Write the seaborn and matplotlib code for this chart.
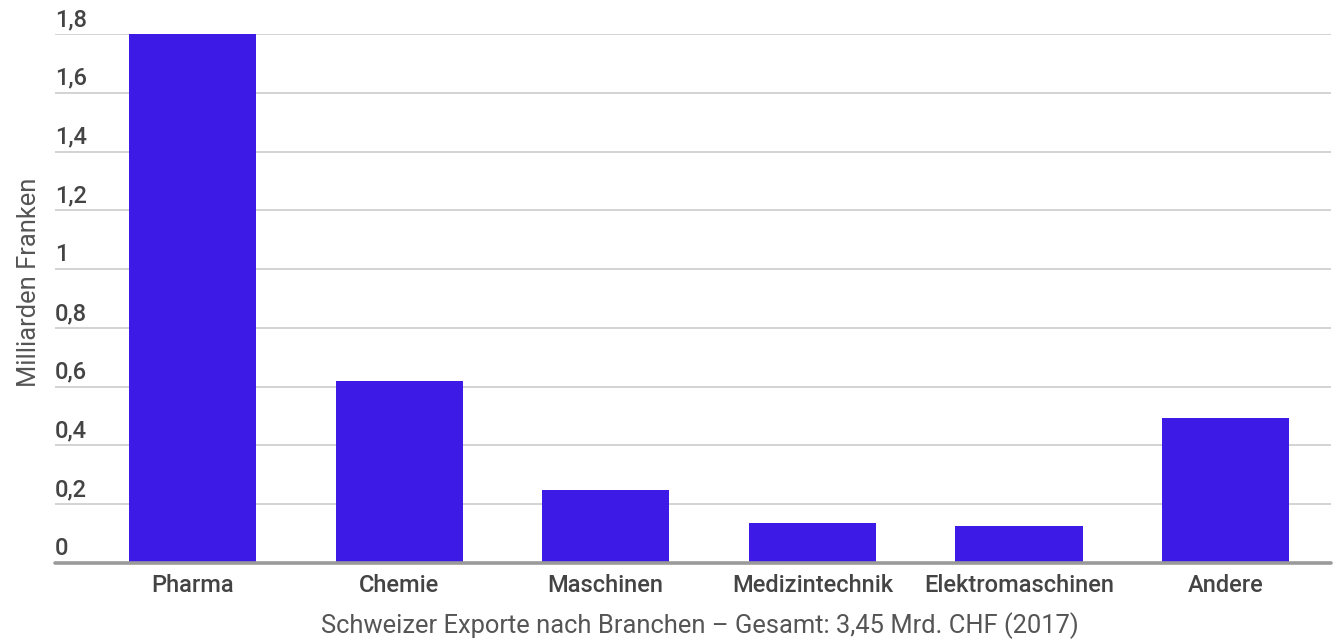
import matplotlib
matplotlib.use("Agg")
import matplotlib.pyplot as plt
import matplotlib.transforms as mtransforms
import seaborn as sns
import pandas as pd

# Data
categories = ["Pharma", "Chemie", "Maschinen", "Medizintechnik", "Elektromaschinen", "Andere"]
values = [1.8, 0.62, 0.25, 0.137, 0.126, 0.493]
ytick_values = [0, 0.2, 0.4, 0.6, 0.8, 1.0, 1.2, 1.4, 1.6, 1.8]
ytick_labels = ["0", "0,2", "0,4", "0,6", "0,8", "1", "1,2", "1,4", "1,6", "1,8"]
y_label = "Milliarden Franken"
x_label = "Schweizer Exporte nach Branchen – Gesamt: 3,45 Mrd. CHF (2017)"

df = pd.DataFrame({"Branche": categories, "Wert": values})

sns.set_theme(style="white")
plt.rcParams["font.family"] = ["Roboto", "DejaVu Sans"]

W, H = 1344, 643
fig = plt.figure(figsize=(W / 100, H / 100), dpi=100)
left, right, top, bottom = 55, 1331, 34, 563
ax = fig.add_axes([left / W, (H - bottom) / H, (right - left) / W, (bottom - top) / H])

bar_color = "#3d1ae6"
sns.barplot(data=df, x="Branche", y="Wert", color=bar_color, saturation=1,
            width=0.615, linewidth=0, ax=ax)

ax.set_xlim(-0.665, 5.51)
ax.set_ylim(0, 1.8)
ax.set_yticks(ytick_values)
ax.set_yticklabels(ytick_labels)

# grid
for v in ytick_values[1:]:
    ax.axhline(v, color="#cccccc", linewidth=1.2, zorder=0)
ax.axhline(0, color="#9a9a9a", linewidth=2.6, zorder=3, clip_on=False)

for s in ax.spines.values():
    s.set_visible(False)

text_color = "#444444"
ax.tick_params(axis="y", length=0, pad=0, labelsize=17, labelcolor=text_color)
ax.tick_params(axis="x", length=0, pad=8, labelsize=17, labelcolor=text_color)
offset = mtransforms.ScaledTranslation(0, 8 / 100, fig.dpi_scale_trans)
for lab in ax.get_yticklabels():
    lab.set_horizontalalignment("left")
    lab.set_verticalalignment("baseline")
    lab.set_fontweight("medium")
    lab.set_transform(lab.get_transform() + offset)
for lab in ax.get_xticklabels():
    lab.set_fontweight("medium")

ax.set_ylabel(y_label, fontsize=18.4, color="#555555")
ax.yaxis.set_label_coords(-0.011, 0.531)
ax.set_xlabel(x_label, fontsize=18.4, color="#555555")
ax.xaxis.set_label_coords(0.5055, -0.092)

fig.savefig("out.png", dpi=100, facecolor="white")
